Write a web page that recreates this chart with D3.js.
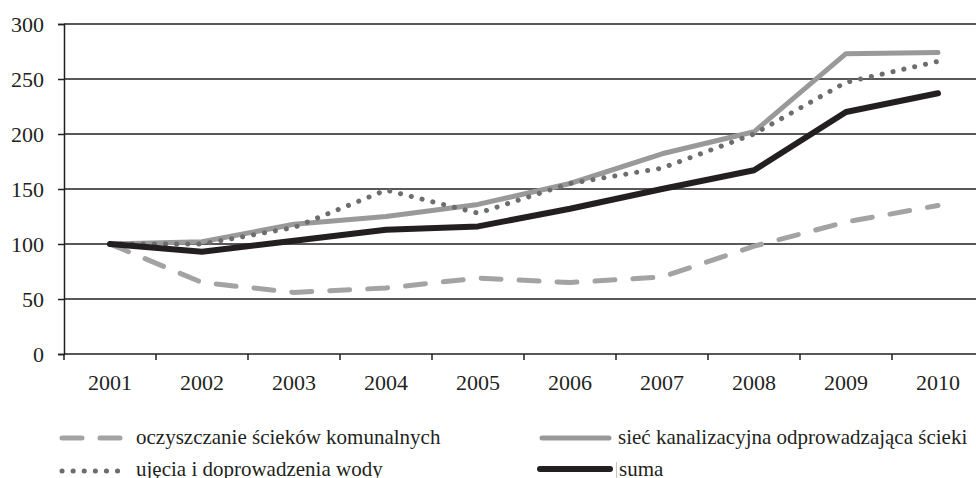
<!DOCTYPE html>
<html>
<head>
<meta charset="utf-8">
<script src="https://cdn.jsdelivr.net/npm/d3@7/dist/d3.min.js"></script>
<style>
  body { margin: 0; background: #fff; }
</style>
</head>
<body>
<div id="chart"></div>
<script>
var years = ["2001","2002","2003","2004","2005","2006","2007","2008","2009","2010"];
var oczyszczanie = [100, 65, 56, 60, 69, 65, 70, 98, 120, 135];
var siec = [100, 102, 118, 125, 136, 155, 182, 202, 273, 274];
var ujecia = [100, 100, 115, 149, 128, 155, 169, 200, 247, 266];
var suma = [100, 93, 103, 113, 116, 132, 150, 167, 220, 237];
var yTicks = [0, 50, 100, 150, 200, 250, 300];

var seriesNames = ["oczyszczanie ścieków komunalnych", "ujęcia i doprowadzenia wody",
                   "sieć kanalizacyjna odprowadzająca ścieki", "suma"];

var W = 976, H = 478;
var mLeft = 64, mRight = 984, mTop = 24, mBottom = 354;
var serif = "'Liberation Serif'";

var svg = d3.select("#chart")
  .append("svg")
    .attr("width", W)
    .attr("height", H)
    .style("display", "block");

var x = d3.scaleBand()
  .domain(years)
  .range([mLeft, mRight]);

var y = d3.scaleLinear()
  .domain([0, 300])
  .range([mBottom, mTop]);

// gridlines
svg.append("g")
  .selectAll("line")
  .data(yTicks)
  .enter().append("line")
    .attr("x1", mLeft)
    .attr("x2", W)
    .attr("y1", function(d) { return y(d); })
    .attr("y2", function(d) { return y(d); })
    .attr("stroke", "#231f20")
    .attr("stroke-width", 1.5);

// y axis
var axis_y = svg.append("g")
  .attr("transform", "translate(" + mLeft + ",0)")
  .call(d3.axisLeft(y).tickValues(yTicks).tickSize(6).tickPadding(14));
axis_y.select(".domain").attr("stroke", "#231f20").attr("stroke-width", 1.5);
axis_y.selectAll(".tick line").attr("stroke", "#231f20").attr("stroke-width", 1.5);
axis_y.selectAll(".tick text")
  .attr("font-size", 22)
  .style("font-family", serif)
  .attr("fill", "#231f20");

// x axis: ticks at band boundaries
var axis_x = svg.append("g")
  .attr("transform", "translate(0," + mBottom + ")");
axis_x.selectAll("line.tk")
  .data(years)
  .enter().append("line")
    .attr("class", "tk")
    .attr("x1", function(d) { return x(d); })
    .attr("x2", function(d) { return x(d); })
    .attr("y1", 0)
    .attr("y2", 6)
    .attr("stroke", "#231f20")
    .attr("stroke-width", 1.5);
axis_x.selectAll("text")
  .data(years)
  .enter().append("text")
    .attr("x", function(d) { return x(d) + x.bandwidth() / 2; })
    .attr("y", 36)
    .attr("text-anchor", "middle")
    .attr("font-size", 22)
    .style("font-family", serif)
    .attr("fill", "#231f20")
    .text(function(d) { return d; });

var styles = [
  {data: oczyszczanie, stroke: "#a3a3a3", width: 5, dash: "20,18"},
  {data: siec, stroke: "#999999", width: 5, dash: null},
  {data: ujecia, stroke: "#6d6d6d", width: 5, dash: "0.1,11"},
  {data: suma, stroke: "#231f20", width: 6, dash: null}
];

var line = d3.line()
  .x(function(d, i) { return x(years[i]) + x.bandwidth() / 2; })
  .y(function(d) { return y(d); });

styles.forEach(function(s) {
  svg.append("path")
    .datum(s.data)
    .attr("fill", "none")
    .attr("stroke", s.stroke)
    .attr("stroke-width", s.width)
    .attr("stroke-linecap", "round")
    .attr("stroke-linejoin", "round")
    .style("stroke-dasharray", s.dash)
    .attr("d", line);
});

// legend
var legendItems = [
  {name: seriesNames[0], s: styles[0], x: 60, y: 438, len: 60, tx: 136, by: 444},
  {name: seriesNames[1], s: styles[2], x: 60, y: 471, len: 60, tx: 136, by: 476},
  {name: seriesNames[2], s: styles[1], x: 540, y: 438, len: 69, tx: 618, by: 444},
  {name: seriesNames[3], s: styles[3], x: 538, y: 469, len: 72, tx: 619, by: 476}
];

legendItems.forEach(function(it) {
  var g = svg.append("g");
  g.append("line")
    .attr("x1", it.x + 2)
    .attr("x2", it.x + it.len)
    .attr("y1", it.y)
    .attr("y2", it.y)
    .attr("stroke", it.s.stroke)
    .attr("stroke-width", it.s.width)
    .attr("stroke-linecap", "round")
    .style("stroke-dasharray", it.s.dash);
  g.append("text")
    .attr("x", it.tx)
    .attr("y", it.by)
    .attr("font-size", 21)
    .style("font-family", serif)
    .attr("fill", "#231f20")
    .text(it.name);
});

// thin separator mark seen before "suma"
svg.append("line")
  .attr("x1", 616.5).attr("x2", 616.5)
  .attr("y1", 462).attr("y2", 478)
  .attr("stroke", "#b8b8b8")
  .attr("stroke-width", 0.8);
</script>
</body>
</html>
